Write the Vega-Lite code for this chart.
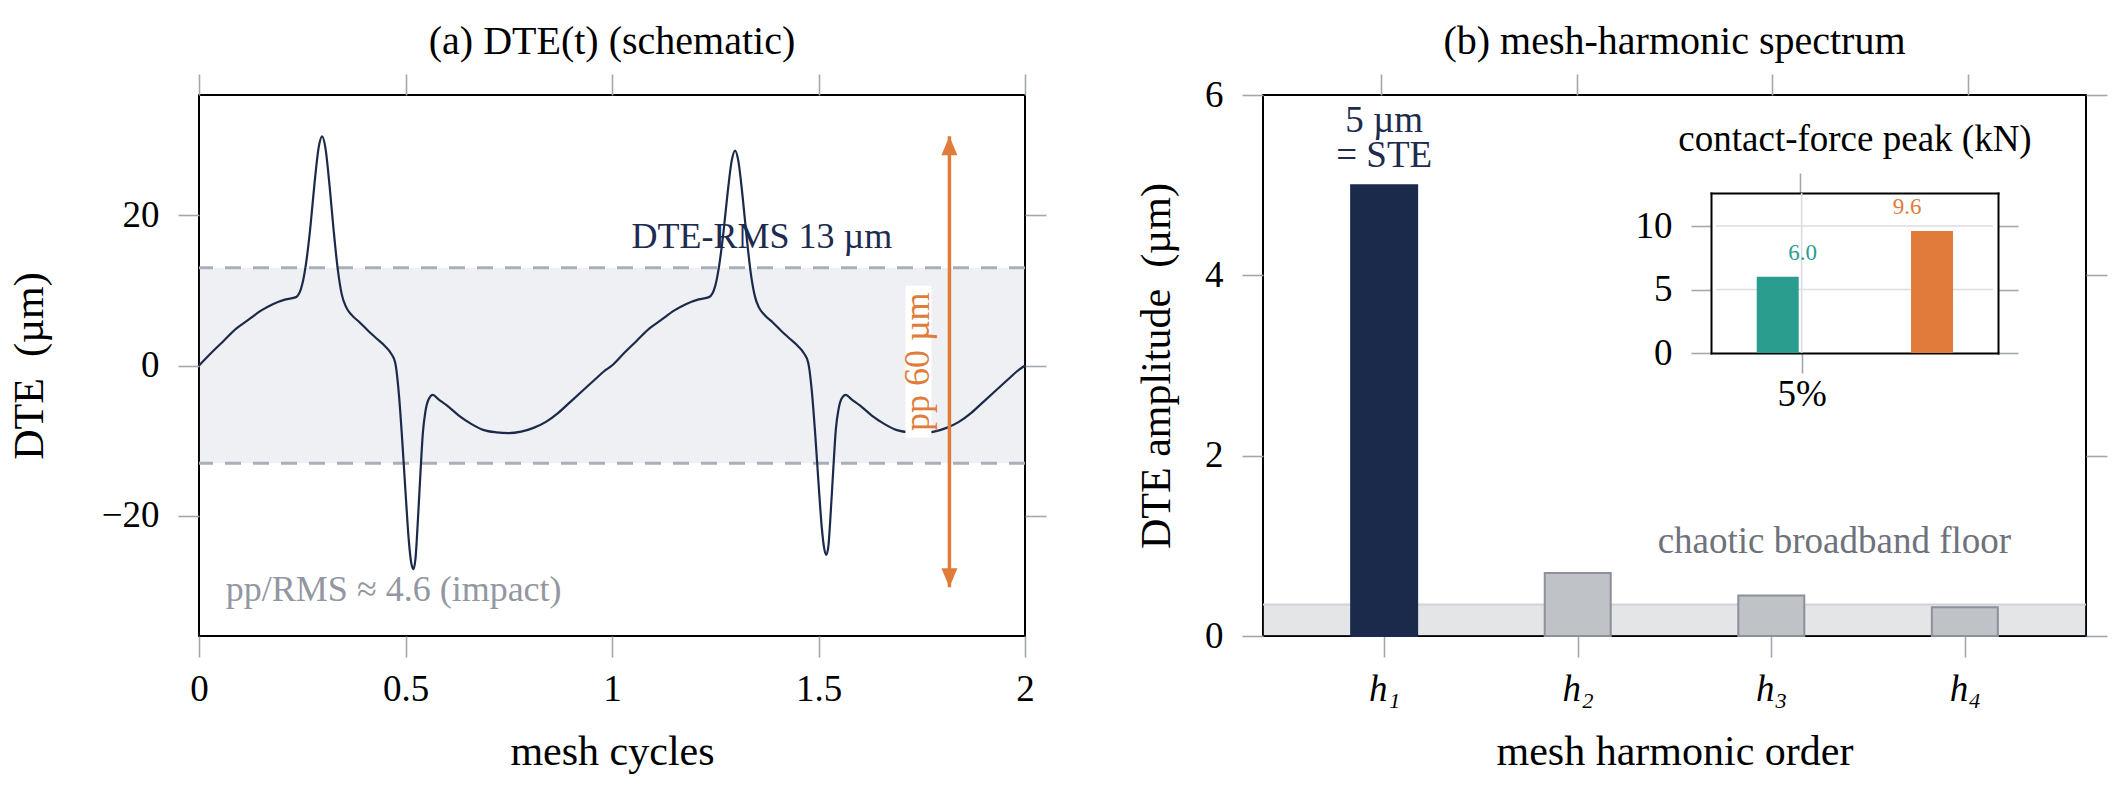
{
  "$schema": "https://vega.github.io/schema/vega-lite/v6.json",
  "padding": {"left": 7, "top": 21, "right": 5, "bottom": 6},
  "config": {
    "font": "Liberation Serif",
    "view": {"stroke": "#000000", "strokeWidth": 2},
    "title": {"font": "Liberation Serif", "fontSize": 40, "fontWeight": "normal", "color": "#000000"},
    "axis": {
      "domain": false,
      "grid": true,
      "gridColor": "#dcdde2",
      "gridWidth": 1.6,
      "ticks": true,
      "tickColor": "#a4a7b0",
      "tickWidth": 1.6,
      "tickSize": 21,
      "labelFont": "Liberation Serif",
      "labelFontSize": 37,
      "labelColor": "#000000",
      "labelPadding": 14,
      "labelFlush": false,
      "titleFont": "Liberation Serif",
      "titleFontSize": 42,
      "titleFontWeight": "normal",
      "titleColor": "#000000"
    },
    "axisY": {"labelPadding": 19},
    "text": {"font": "Liberation Serif"}
  },
  "datasets": {
    "dte": [
      {"t": 0, "dte": 0}, {"t": 0.03, "dte": 1.7}, {"t": 0.06, "dte": 3.3}, {"t": 0.09, "dte": 4.9},
      {"t": 0.12, "dte": 6.1}, {"t": 0.15, "dte": 7.3}, {"t": 0.18, "dte": 8.2}, {"t": 0.21, "dte": 8.8},
      {"t": 0.235, "dte": 9.1}, {"t": 0.25, "dte": 10.8}, {"t": 0.26, "dte": 13.9}, {"t": 0.27, "dte": 18.6},
      {"t": 0.28, "dte": 24.4}, {"t": 0.29, "dte": 29.1}, {"t": 0.298, "dte": 30.5}, {"t": 0.306, "dte": 29.0},
      {"t": 0.316, "dte": 24.0}, {"t": 0.326, "dte": 18.0}, {"t": 0.336, "dte": 12.8}, {"t": 0.346, "dte": 9.4},
      {"t": 0.356, "dte": 7.8}, {"t": 0.37, "dte": 6.7}, {"t": 0.39, "dte": 5.7}, {"t": 0.41, "dte": 4.6},
      {"t": 0.43, "dte": 3.6}, {"t": 0.45, "dte": 2.6}, {"t": 0.465, "dte": 1.6}, {"t": 0.475, "dte": 0.4},
      {"t": 0.484, "dte": -3.8}, {"t": 0.492, "dte": -9.9}, {"t": 0.5, "dte": -16.8}, {"t": 0.508, "dte": -23.3},
      {"t": 0.514, "dte": -26.3}, {"t": 0.519, "dte": -27.1}, {"t": 0.524, "dte": -25.8}, {"t": 0.53, "dte": -20.6},
      {"t": 0.536, "dte": -14.5}, {"t": 0.542, "dte": -9.0}, {"t": 0.548, "dte": -6.2}, {"t": 0.556, "dte": -4.5},
      {"t": 0.566, "dte": -3.9}, {"t": 0.58, "dte": -4.5}, {"t": 0.6, "dte": -5.3}, {"t": 0.63, "dte": -6.7},
      {"t": 0.66, "dte": -7.8}, {"t": 0.69, "dte": -8.6}, {"t": 0.72, "dte": -8.9}, {"t": 0.75, "dte": -9.0},
      {"t": 0.78, "dte": -8.8}, {"t": 0.81, "dte": -8.3}, {"t": 0.84, "dte": -7.5}, {"t": 0.87, "dte": -6.3},
      {"t": 0.9, "dte": -4.8}, {"t": 0.93, "dte": -3.3}, {"t": 0.96, "dte": -1.8}, {"t": 0.98, "dte": -0.8},
      {"t": 1.0, "dte": 0}, {"t": 1.03, "dte": 1.7}, {"t": 1.06, "dte": 3.3}, {"t": 1.09, "dte": 4.9},
      {"t": 1.12, "dte": 6.1}, {"t": 1.15, "dte": 7.3}, {"t": 1.18, "dte": 8.2}, {"t": 1.21, "dte": 8.8},
      {"t": 1.235, "dte": 9.1}, {"t": 1.25, "dte": 10.6}, {"t": 1.26, "dte": 13.5}, {"t": 1.27, "dte": 17.8},
      {"t": 1.28, "dte": 23.0}, {"t": 1.29, "dte": 27.3}, {"t": 1.298, "dte": 28.6}, {"t": 1.306, "dte": 27.2},
      {"t": 1.316, "dte": 22.6}, {"t": 1.326, "dte": 17.1}, {"t": 1.336, "dte": 12.3}, {"t": 1.346, "dte": 9.2},
      {"t": 1.356, "dte": 7.7}, {"t": 1.37, "dte": 6.7}, {"t": 1.39, "dte": 5.7}, {"t": 1.41, "dte": 4.6},
      {"t": 1.43, "dte": 3.6}, {"t": 1.45, "dte": 2.6}, {"t": 1.465, "dte": 1.6}, {"t": 1.475, "dte": 0.4},
      {"t": 1.484, "dte": -3.5}, {"t": 1.492, "dte": -9.1}, {"t": 1.5, "dte": -15.6}, {"t": 1.508, "dte": -21.6},
      {"t": 1.514, "dte": -24.4}, {"t": 1.519, "dte": -25.2}, {"t": 1.524, "dte": -24.0}, {"t": 1.53, "dte": -19.2},
      {"t": 1.536, "dte": -13.6}, {"t": 1.542, "dte": -8.5}, {"t": 1.548, "dte": -6.0}, {"t": 1.556, "dte": -4.4},
      {"t": 1.566, "dte": -3.9}, {"t": 1.58, "dte": -4.5}, {"t": 1.6, "dte": -5.3}, {"t": 1.63, "dte": -6.7},
      {"t": 1.66, "dte": -7.8}, {"t": 1.69, "dte": -8.6}, {"t": 1.72, "dte": -8.9}, {"t": 1.75, "dte": -9.0},
      {"t": 1.78, "dte": -8.8}, {"t": 1.81, "dte": -8.3}, {"t": 1.84, "dte": -7.5}, {"t": 1.87, "dte": -6.3},
      {"t": 1.9, "dte": -4.8}, {"t": 1.93, "dte": -3.3}, {"t": 1.96, "dte": -1.8}, {"t": 1.98, "dte": -0.8},
      {"t": 2.0, "dte": 0}
    ],
    "harmonics": [
      {"order": 1, "amp": 5.0, "group": "mesh"},
      {"order": 2, "amp": 0.7, "group": "broadband"},
      {"order": 3, "amp": 0.45, "group": "broadband"},
      {"order": 4, "amp": 0.32, "group": "broadband"}
    ],
    "force": [
      {"slot": 1, "kN": 6.0, "run": "A"},
      {"slot": 2, "kN": 9.6, "run": "B"}
    ]
  },
  "spacing": 86,
  "hconcat": [
    {
      "width": 826,
      "height": 541,
      "title": {"text": "(a) DTE(t) (schematic)", "offset": 11},
      "resolve": {"scale": {"x": "independent", "y": "independent"}},
      "layer": [
        {
          "data": {"name": "dte"},
          "mark": {"type": "point", "opacity": 0},
          "encoding": {
            "x": {"field": "t", "type": "quantitative", "scale": {"domain": [0, 2], "nice": false, "zero": false},
                  "axis": {"orient": "top", "values": [0, 0.5, 1, 1.5, 2], "labels": false, "grid": false, "title": null}},
            "y": {"field": "dte", "type": "quantitative", "scale": {"domain": [-36, 36], "nice": false},
                  "axis": {"orient": "right", "values": [-20, 0, 20], "labels": false, "grid": false, "title": null}}
          }
        },
        {
          "layer": [
            {
              "data": {"values": [{"lo": -13, "hi": 13}]},
              "mark": {"type": "rect", "color": "#7a8499", "opacity": 0.12},
              "encoding": {
                "y": {"field": "lo", "type": "quantitative", "scale": {"domain": [-36, 36], "nice": false}},
                "y2": {"field": "hi"}
              }
            },
            {
              "data": {"values": [{"level": 13}, {"level": -13}]},
              "mark": {"type": "rule", "color": "#a9aebb", "strokeWidth": 3, "strokeDash": [16, 12]},
              "encoding": {"y": {"field": "level", "type": "quantitative"}}
            },
            {
              "data": {"name": "dte"},
              "mark": {"type": "line", "color": "#1b2a4a", "strokeWidth": 2.2, "interpolate": "monotone"},
              "encoding": {
                "x": {"field": "t", "type": "quantitative", "scale": {"domain": [0, 2], "nice": false, "zero": false},
                      "axis": {"values": [0, 0.5, 1, 1.5, 2], "format": "~g", "title": "mesh cycles", "titlePadding": 24}},
                "y": {"field": "dte", "type": "quantitative", "scale": {"domain": [-36, 36], "nice": false},
                      "axis": {"values": [-20, 0, 20], "title": "DTE\u2002(µm)", "titlePadding": 50}}
              }
            },
            {
              "data": {"values": [{"t": 1.742, "dte": 0.5, "note": "pp 60 µm"}]},
              "layer": [
                {
                  "mark": {"type": "point", "shape": "M-0.171,-1H0.171V1H-0.171Z", "size": 23104, "filled": true, "color": "#ffffff", "opacity": 1},
                  "encoding": {"x": {"field": "t", "type": "quantitative"}, "y": {"field": "dte", "type": "quantitative"}}
                },
                {
                  "mark": {"type": "text", "angle": 270, "color": "#e07b39", "fontSize": 36, "align": "center", "baseline": "middle"},
                  "encoding": {"x": {"field": "t", "type": "quantitative"}, "y": {"field": "dte", "type": "quantitative"}, "text": {"field": "note"}}
                }
              ]
            },
            {
              "data": {"values": [{"t": 1.817, "lo": -29.5, "hi": 30.5}]},
              "layer": [
                {
                  "mark": {"type": "rule", "color": "#e07b39", "strokeWidth": 3.5},
                  "encoding": {"x": {"field": "t", "type": "quantitative"}, "y": {"field": "lo", "type": "quantitative"}, "y2": {"field": "hi"}}
                },
                {
                  "mark": {"type": "point", "shape": "M0,0L0.8,1.9L-0.8,1.9Z", "size": 400, "filled": true, "color": "#e07b39", "opacity": 1},
                  "encoding": {"x": {"field": "t", "type": "quantitative"}, "y": {"field": "hi", "type": "quantitative"}}
                },
                {
                  "mark": {"type": "point", "shape": "M0,0L0.8,-1.9L-0.8,-1.9Z", "size": 400, "filled": true, "color": "#e07b39", "opacity": 1},
                  "encoding": {"x": {"field": "t", "type": "quantitative"}, "y": {"field": "lo", "type": "quantitative"}}
                }
              ]
            },
            {
              "data": {"values": [{"t": 1.363, "dte": 15.6, "note": "DTE-RMS 13 µm"}]},
              "mark": {"type": "text", "color": "#1d2b4e", "fontSize": 36, "align": "center", "baseline": "alphabetic"},
              "encoding": {"x": {"field": "t", "type": "quantitative"}, "y": {"field": "dte", "type": "quantitative"}, "text": {"field": "note"}}
            },
            {
              "data": {"values": [{"t": 0.065, "dte": -31.3, "note": "pp/RMS ≈ 4.6 (impact)"}]},
              "mark": {"type": "text", "color": "#9397a2", "fontSize": 36, "align": "left", "baseline": "alphabetic"},
              "encoding": {"x": {"field": "t", "type": "quantitative"}, "y": {"field": "dte", "type": "quantitative"}, "text": {"field": "note"}}
            }
          ]
        }
      ]
    },
    {
      "width": 823,
      "height": 541,
      "title": {"text": "(b) mesh-harmonic spectrum", "offset": 11},
      "resolve": {"scale": {"x": "independent", "y": "independent", "color": "independent", "stroke": "independent"}},
      "layer": [
        {
          "data": {"name": "harmonics"},
          "mark": {"type": "point", "opacity": 0},
          "encoding": {
            "x": {"field": "order", "type": "quantitative", "scale": {"domain": [0.4, 4.6], "nice": false, "zero": false},
                  "axis": {"orient": "top", "values": [1, 2, 3, 4], "labels": false, "grid": false, "title": null}},
            "y": {"field": "amp", "type": "quantitative", "scale": {"domain": [0, 6], "nice": false},
                  "axis": {"orient": "right", "values": [0, 2, 4, 6], "labels": false, "grid": false, "title": null}}
          }
        },
        {
          "layer": [
            {
              "data": {"values": [{"floor": 0.35}]},
              "mark": {"type": "rect", "color": "#8a8f99", "opacity": 0.23},
              "encoding": {
                "y": {"field": "floor", "type": "quantitative", "scale": {"domain": [0, 6], "nice": false}},
                "y2": {"datum": 0}
              }
            },
            {
              "data": {"values": [{"floor": 0.35}]},
              "mark": {"type": "rule", "color": "#d0d2d6", "strokeWidth": 2},
              "encoding": {"y": {"field": "floor", "type": "quantitative"}}
            },
            {
              "data": {"name": "harmonics"},
              "mark": {"type": "bar", "size": 66, "strokeWidth": 2},
              "encoding": {
                "x": {"field": "order", "type": "quantitative", "scale": {"domain": [0.4, 4.6], "nice": false, "zero": false},
                      "axis": {"values": [1, 2, 3, 4], "labelExpr": "'h' + ['', '₁', '₂', '₃', '₄'][datum.value]", "labelFontStyle": "italic", "title": "mesh harmonic order", "titlePadding": 24}},
                "y": {"field": "amp", "type": "quantitative", "scale": {"domain": [0, 6], "nice": false},
                      "axis": {"values": [0, 2, 4, 6], "format": "~g", "title": "DTE amplitude\u2002(µm)", "titlePadding": 26}},
                "color": {"field": "group", "type": "nominal", "scale": {"domain": ["mesh", "broadband"], "range": ["#1b2a4a", "#bfc2c7"]}, "legend": null},
                "stroke": {"field": "group", "type": "nominal", "scale": {"domain": ["mesh", "broadband"], "range": ["#1b2a4a", "#8c909a"]}, "legend": null}
              }
            },
            {
              "data": {"values": [{"order": 1, "amp": 5.0, "note": "5 µm\n= STE"}]},
              "mark": {"type": "text", "color": "#1d2b4e", "fontSize": 37, "align": "center", "baseline": "alphabetic", "lineBreak": "\n", "lineHeight": 35, "dy": -53},
              "encoding": {"x": {"field": "order", "type": "quantitative"}, "y": {"field": "amp", "type": "quantitative"}, "text": {"field": "note"}}
            },
            {
              "data": {"values": [{"order": 3.326, "amp": 0.92, "note": "chaotic broadband floor"}]},
              "mark": {"type": "text", "color": "#6e727b", "fontSize": 37, "align": "center", "baseline": "alphabetic"},
              "encoding": {"x": {"field": "order", "type": "quantitative"}, "y": {"field": "amp", "type": "quantitative"}, "text": {"field": "note"}}
            }
          ]
        },
        {
          "data": {"name": "force"},
          "mark": {"type": "point", "opacity": 0},
          "encoding": {
            "x": {"field": "slot", "type": "quantitative", "scale": {"domain": [0.6, 2.395], "range": [448, 735], "nice": false, "zero": false},
                  "axis": {"orient": "top", "offset": -98, "values": [1.155], "labels": false, "grid": false, "tickSize": 20,
                           "domain": true, "domainColor": "#000000", "domainWidth": 2, "domainCap": "square",
                           "title": "contact-force peak (kN)", "titleFontSize": 37, "titlePadding": 14}},
            "y": {"field": "kN", "type": "quantitative", "scale": {"domain": [0, 12.6], "range": [258, 98], "nice": false},
                  "axis": {"orient": "right", "offset": -88, "values": [0, 5, 10], "labels": false, "grid": false, "tickSize": 20,
                           "domain": true, "domainColor": "#000000", "domainWidth": 2, "domainCap": "square", "title": null}}
          }
        },
        {
          "layer": [
            {
              "data": {"values": [{"kN": 5}, {"kN": 10}]},
              "mark": {"type": "rule", "color": "#dcdde2", "strokeWidth": 1.6},
              "encoding": {
                "x": {"datum": 0.6, "type": "quantitative", "scale": {"domain": [0.6, 2.395], "range": [448, 735], "nice": false, "zero": false},
                      "axis": {"orient": "bottom", "offset": -283, "values": [1.155], "labelExpr": "'5%'", "title": null, "tickSize": 20, "labelPadding": 3, "grid": false,
                               "domain": true, "domainColor": "#000000", "domainWidth": 2, "domainCap": "square"}},
                "x2": {"datum": 2.395},
                "y": {"field": "kN", "type": "quantitative", "scale": {"domain": [0, 12.6], "range": [258, 98], "nice": false},
                      "axis": {"orient": "left", "offset": -448, "values": [0, 5, 10], "title": null, "tickSize": 20, "labelPadding": 19, "grid": false,
                               "domain": true, "domainColor": "#000000", "domainWidth": 2, "domainCap": "square"}}
              }
            },
            {
              "data": {"values": [{"slot": 1.155}]},
              "mark": {"type": "rule", "color": "#dcdde2", "strokeWidth": 1.6},
              "encoding": {
                "x": {"field": "slot", "type": "quantitative"},
                "y": {"datum": 0, "type": "quantitative"},
                "y2": {"datum": 12.6}
              }
            },
            {
              "data": {"name": "force"},
              "mark": {"type": "bar", "size": 42},
              "encoding": {
                "x": {"field": "slot", "type": "quantitative"},
                "y": {"field": "kN", "type": "quantitative"},
                "color": {"field": "run", "type": "nominal", "scale": {"domain": ["A", "B"], "range": ["#2a9d8f", "#e07b39"]}, "legend": null}
              }
            },
            {
              "data": {"name": "force"},
              "transform": [{"filter": "datum.slot == 1"}],
              "mark": {"type": "text", "fontSize": 23, "dx": 25, "dy": -17, "align": "center", "baseline": "alphabetic"},
              "encoding": {
                "x": {"field": "slot", "type": "quantitative"},
                "y": {"field": "kN", "type": "quantitative"},
                "text": {"field": "kN", "type": "quantitative", "format": ".1f"},
                "color": {"field": "run", "type": "nominal", "scale": {"domain": ["A", "B"], "range": ["#2a9d8f", "#e07b39"]}, "legend": null}
              }
            },
            {
              "data": {"name": "force"},
              "transform": [{"filter": "datum.slot == 2"}],
              "mark": {"type": "text", "fontSize": 23, "dx": -25, "dy": -17, "align": "center", "baseline": "alphabetic"},
              "encoding": {
                "x": {"field": "slot", "type": "quantitative"},
                "y": {"field": "kN", "type": "quantitative"},
                "text": {"field": "kN", "type": "quantitative", "format": ".1f"},
                "color": {"field": "run", "type": "nominal", "scale": {"domain": ["A", "B"], "range": ["#2a9d8f", "#e07b39"]}, "legend": null}
              }
            }
          ]
        }
      ]
    }
  ]
}
